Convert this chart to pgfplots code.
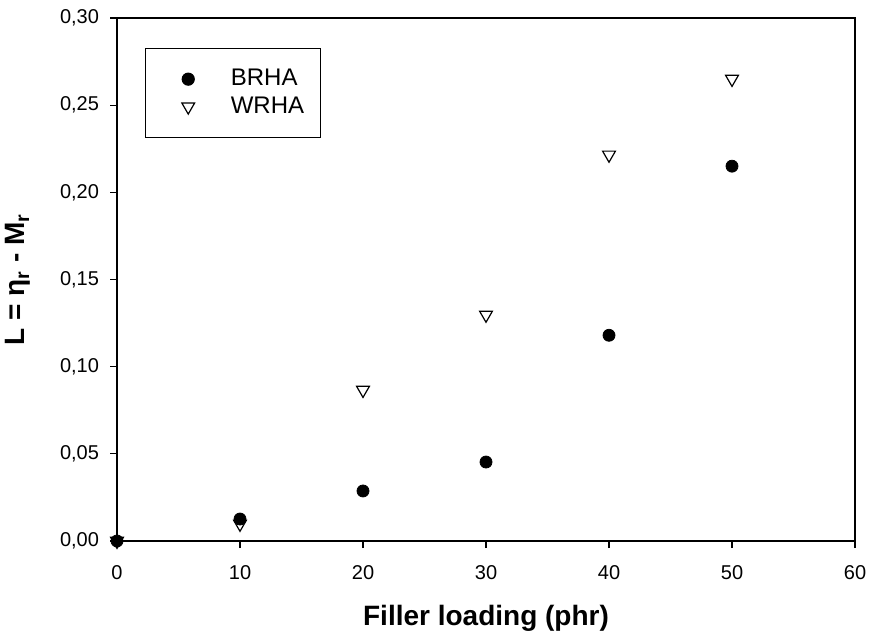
\documentclass[border=0pt]{standalone}
\usepackage{pgfplots}
\pgfplotsset{compat=1.18}
\usepackage{fontspec}
\setmainfont{Liberation Sans}
\begin{document}
\begin{tikzpicture}
\begin{axis}[
  name=ax,
  scale only axis,
  width=369pt, height=261.5pt,
  xmin=0, xmax=60, ymin=0, ymax=0.30,
  xtick={0,10,...,60},
  ytick={0,0.05,...,0.30},
  tick align=outside,
  xtick pos=left, ytick pos=left,
  major tick length=3.5pt,
  axis line style={line width=0.8pt},
  tick style={line width=0.6pt, black},
  /pgf/number format/assume math mode=true,
  yticklabel style={/pgf/number format/.cd, fixed, fixed zerofill, precision=2, use comma, /tikz/.cd, xshift=-2pt},
  xticklabel style={/pgf/number format/.cd, fixed, /tikz/.cd, yshift=-5pt},
  ticklabel style={font=\fontsize{10}{12}\selectfont},
  scaled y ticks=false,
  xlabel={\textbf{Filler loading (phr)}},
  ylabel={\textbf{L = η\textsubscript{r} - M\textsubscript{r}}},
  label style={font=\fontsize{14}{16}\selectfont, inner sep=0pt},
  xlabel style={at={(axis description cs:0.5,0)}, anchor=north, yshift=-32pt},
  ylabel style={at={(axis description cs:0,0.5)}, anchor=center, yshift=49.5pt},
  legend style={at={(0.038,0.943)}, anchor=north west, draw=black, line width=0.6pt,
    font=\fontsize{12}{14}\selectfont, nodes={inner sep=0.5pt}, row sep=3pt,
    inner xsep=7.5pt, inner ysep=10pt,
    /tikz/every odd column/.append style={column sep=17.5pt}},
  legend image code/.code={\path (-13.5pt,0pt) (3pt,0pt); \draw[#1] plot coordinates {(0pt,0pt)};},
  legend cell align=left,
  clip=false,
]
\addplot[only marks, mark=*, mark size=3pt, mark options={fill=black, draw=black}]
 coordinates {(0,0) (10,0.0126) (20,0.0287) (30,0.0453) (40,0.118) (50,0.215)};
\addlegendentry{BRHA}
\addplot[only marks, mark=triangle, mark size=3.7pt, mark options={rotate=180, fill=white, draw=black, line width=0.6pt}]
 coordinates {(0,0) (10,0.0098) (20,0.0866) (30,0.1297) (40,0.2215) (50,0.265)};
\addlegendentry{WRHA}
\end{axis}
\pgfresetboundingbox
\path[use as bounding box] ([shift={(-58.5pt,-44.5pt)}]ax.south west) rectangle ([shift={(9pt,9pt)}]ax.north east);
\end{tikzpicture}
\end{document}
